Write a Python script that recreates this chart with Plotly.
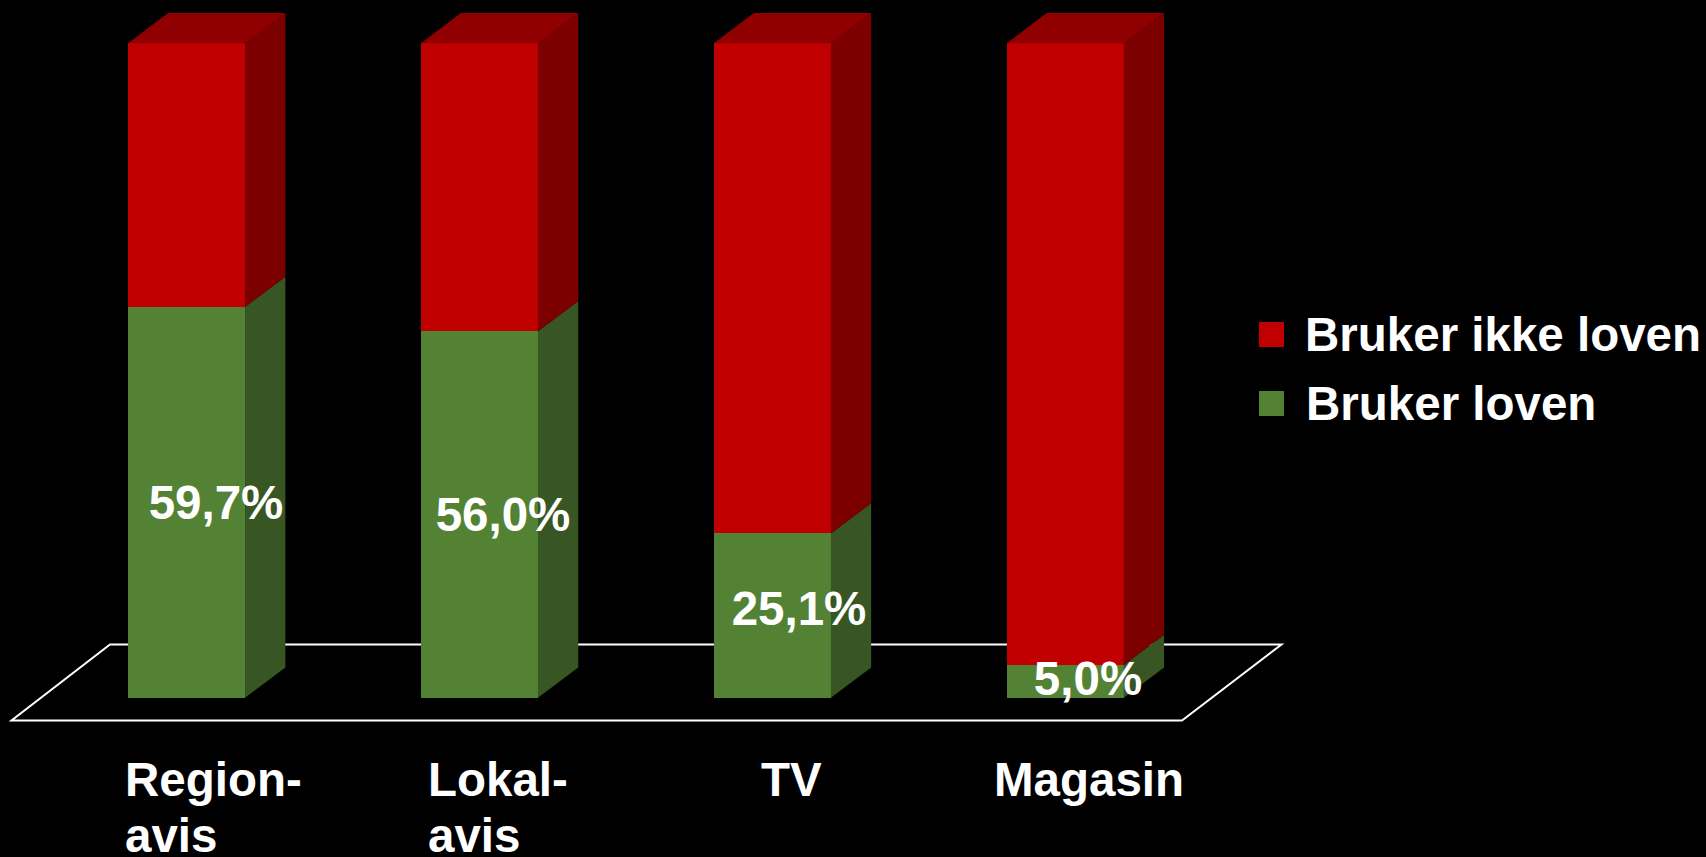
import plotly.graph_objects as go

categories = ["Region-avis", "Lokal-avis", "TV", "Magasin"]
label_lines = [["Region-", "avis"], ["Lokal-", "avis"], ["TV"], ["Magasin"]]
bruker_loven = [59.7, 56.0, 25.1, 5.0]
bruker_ikke_loven = [40.3, 44.0, 74.9, 95.0]
series_names = ["Bruker loven", "Bruker ikke loven"]

W, H = 1706, 857
PX_X, X0 = 292.9, 186.7
PX_Y, Y0 = 6.544, 697.7
BAR_W = 117.3 / PX_X
DX, DY = 40 / PX_X, 30.3 / PX_Y
OVERLAP = 0.3 / PX_X
RED, RED_SIDE, RED_TOP = "#C00000", "#7C0000", "#900000"
GREEN, GREEN_SIDE = "#548235", "#375623"
FS = 47.5
FONT = dict(family="Liberation Sans, Arial, sans-serif", size=FS, color="#FFFFFF", weight=700)


def xd(px):
    return (px - X0) / PX_X


def yd(px):
    return (Y0 - px) / PX_Y


def poly(xs, ys, color):
    return go.Scatter(x=xs, y=ys, mode="lines", fill="toself", fillcolor=color,
                      line=dict(width=0, color=color), hoverinfo="skip", showlegend=False)


fig = go.Figure()
fig.add_bar(x=list(range(4)), y=bruker_loven, name=series_names[0], marker=dict(color=GREEN, line_width=0), width=BAR_W)
fig.add_bar(x=list(range(4)), y=bruker_ikke_loven, name=series_names[1], marker=dict(color=RED, line_width=0), width=BAR_W)

for i in range(4):
    r = i + BAR_W / 2
    l = i - BAR_W / 2
    v = bruker_loven[i]
    t = v + bruker_ikke_loven[i]
    rr = r - OVERLAP
    fig.add_trace(poly([rr, r + DX, r + DX, rr, rr], [0, DY, v + DY, v, 0], GREEN_SIDE))
    fig.add_trace(poly([rr, r + DX, r + DX, rr, rr], [v, v + DY, t + DY, t, v], RED_SIDE))
    fig.add_trace(poly([l, r, r + DX, l + DX, l], [t, t, t + DY, t + DY, t], RED_TOP))

# data labels sit right of the bar centres in the reference
label_x_px = [216, 503, 799, 1088]
label_y_px = [507, 519, 613.5, 683]
fig.add_trace(go.Scatter(
    x=[xd(p) for p in label_x_px],
    y=[yd(p) for p in label_y_px],
    mode="text",
    text=[f"{v:.1f}%".replace(".", ",") for v in bruker_loven],
    textposition="middle center",
    textfont=FONT,
    cliponaxis=False,
    hoverinfo="skip",
    showlegend=False,
))

# legend keys
fig.add_trace(go.Scatter(
    x=[xd(1271.5), xd(1271.5)], y=[yd(334.5), yd(403.5)], mode="markers",
    marker=dict(symbol="square", size=25, color=[RED, GREEN], line_width=0),
    hoverinfo="skip", showlegend=False,
))

floor_px = [(11.5, 720.5), (1182, 720.5), (1281.5, 644.5), (110, 644.5)]
path = "M" + " L".join(f"{xd(a):.4f},{yd(b):.4f}" for a, b in floor_px) + " Z"
fig.add_shape(type="path", path=path, xref="x", yref="y", layer="below",
              line=dict(color="#FFFFFF", width=2), fillcolor="rgba(0,0,0,0)")

annotations = []
label_left_px = [124, 427, 760, 993]
line_baseline_px = [795, 851]
for i, lines in enumerate(label_lines):
    for j, line in enumerate(lines):
        annotations.append(dict(x=xd(label_left_px[i]), y=yd(line_baseline_px[j] - 16),
                                xref="x", yref="y", text=line, showarrow=False,
                                xanchor="left", yanchor="middle", font=FONT, borderpad=0, align="left"))
for name, px_x, px_base in [(series_names[1], 1304, 350), (series_names[0], 1305, 419)]:
    annotations.append(dict(x=xd(px_x), y=yd(px_base - 16), xref="x", yref="y", text=name,
                            showarrow=False, xanchor="left", yanchor="middle", font=FONT, borderpad=0))

fig.update_layout(
    barmode="stack", width=W, height=H, autosize=False,
    margin=dict(l=0, r=0, t=0, b=0),
    paper_bgcolor="#000000", plot_bgcolor="#000000",
    showlegend=False, hovermode=False,
    xaxis=dict(range=[xd(0), xd(W)], visible=False, fixedrange=True),
    yaxis=dict(range=[yd(H), yd(0)], visible=False, fixedrange=True),
    annotations=annotations,
)

fig.write_html("out.html", config=dict(displayModeBar=False),
               post_script="document.body.style.margin='0';document.body.style.background='#000';document.documentElement.style.overflow='hidden';")
